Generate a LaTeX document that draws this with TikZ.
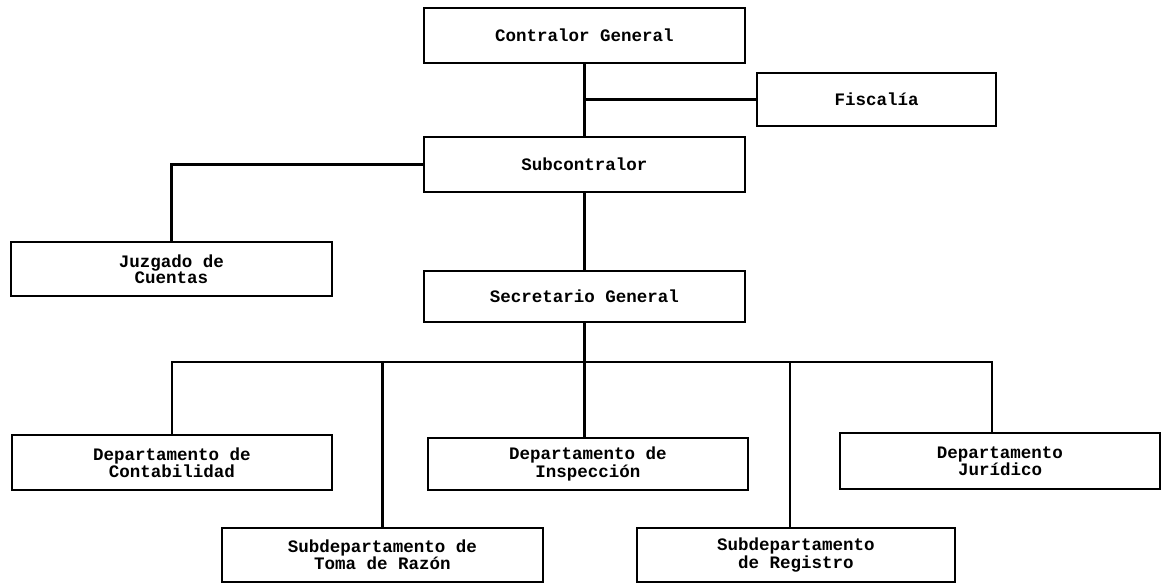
\documentclass[tikz,border=0pt]{standalone}
\usepackage{fontspec}
\setmonofont{Liberation Mono}
\begin{document}
\begin{tikzpicture}[x=1pt,y=-1pt,
  line width=2.4pt,
  box/.style={draw, rectangle, line width=2.4pt, inner sep=0pt, align=center,
    font=\ttfamily\bfseries\fontsize{17.5}{16}\selectfont},
  conn/.style={line width=2.4pt}]
\useasboundingbox (0,0) rectangle (1165,584);
\node[box, minimum width=321pt, minimum height=55pt] (cg)   at (584.5,35.5)  {Contralor General};
\node[box, minimum width=239pt, minimum height=53pt] (fis)  at (876.5,99.5)  {Fiscalía};
\node[box, minimum width=321pt, minimum height=55pt] (sub)  at (584.5,164.5) {Subcontralor};
\node[box, minimum width=321pt, minimum height=54pt] (juz)  at (171.5,269)   {Juzgado de\\Cuentas};
\node[box, minimum width=321pt, minimum height=51pt] (sec)  at (584.5,296.5) {Secretario General};
\node[box, minimum width=320pt, minimum height=55pt] (con)  at (172,462.5)   {Departamento de\\Contabilidad};
\node[box, minimum width=320pt, minimum height=52pt] (ins)  at (588,464)     {Departamento de\\Inspección};
\node[box, minimum width=320pt, minimum height=56pt] (jur)  at (1000,461)    {Departamento\\Jurídico};
\node[box, minimum width=321pt, minimum height=54pt] (toma) at (382.5,555)   {Subdepartamento de\\Toma de Razón};
\node[box, minimum width=318pt, minimum height=54pt] (reg)  at (796,555)     {Subdepartamento\\de Registro};
\coordinate (bus) at (584.5,362);
\draw[conn] (cg.south) -- (sub.north);
\draw[conn] (fis.west) -- (fis.west -| cg.south);
\draw[conn] (sub.west) -| (juz.north);
\draw[conn] (sub.south) -- (sec.north);
\draw[conn] (sec.south) -- (bus);
\draw[conn] (con.north) |- (bus);
\draw[conn] ([xshift=-8pt]jur.north) |- (bus);
\draw[conn] (toma.north) |- (bus);
\draw[conn] (bus) -- (bus |- ins.north);
\draw[conn] ([xshift=-6pt]reg.north) |- (bus);
\end{tikzpicture}
\end{document}
